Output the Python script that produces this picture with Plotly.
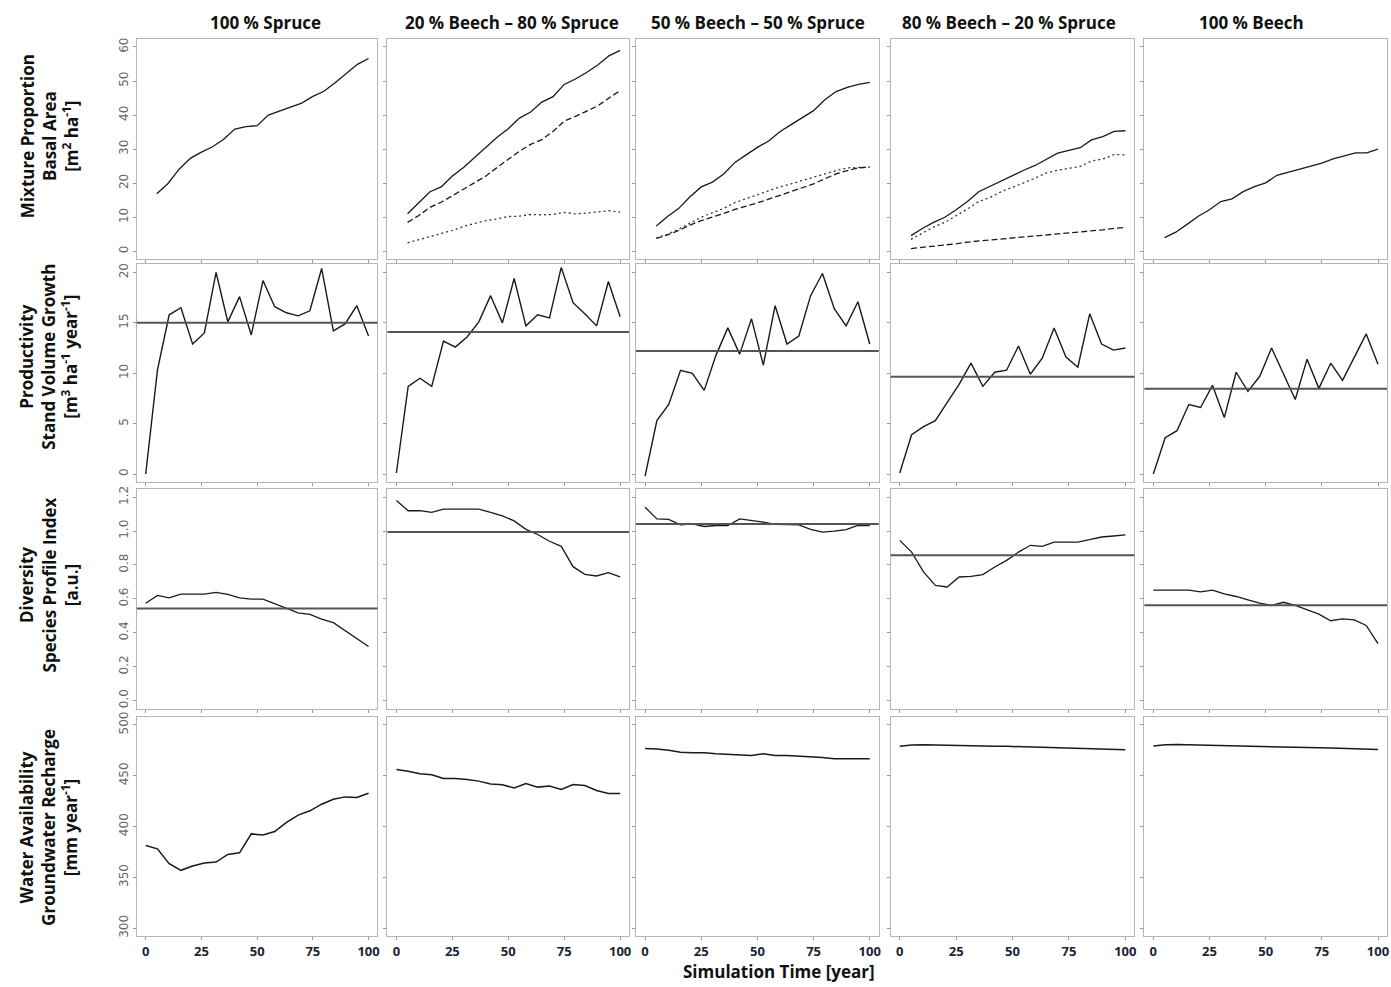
import plotly.graph_objects as go

W, H = 1391, 987

# ---------------- data ----------------
col_titles = ["100 % Spruce", "20 % Beech \u2013 80 % Spruce", "50 % Beech \u2013 50 % Spruce",
              "80 % Beech \u2013 20 % Spruce", "100 % Beech"]
row_titles = ["Mixture Proportion<br>Basal Area<br>[m<sup>2</sup> ha<sup>-1</sup>]",
              "Productivity<br>Stand Volume Growth<br>[m<sup>3</sup> ha<sup>-1</sup> year<sup>-1</sup>]",
              "Diversity<br>Species Profile Index<br>[a.u.]",
              "Water Availability<br>Groundwater Recharge<br>[mm year<sup>-1</sup>]"]

t_ba = [5, 10, 15, 20, 25, 30, 35, 40, 45, 50, 55, 60, 65, 70, 75, 80, 85, 90, 95, 100]
t_sim = [0, 5.26, 10.53, 15.79, 21.05, 26.32, 31.58, 36.84, 42.11, 47.37,
         52.63, 57.89, 63.16, 68.42, 73.68, 78.95, 84.21, 89.47, 94.74, 100]

# Basal area (row 1): total (solid), spruce (dashed), beech (dotted)
ba_total = [
    [16.9, 19.9, 24.1, 27.3, 29.1, 30.7, 32.9, 35.9, 36.6, 36.9, 40.0, 41.1, 42.3, 43.5, 45.5, 47.0, 49.5, 52.2, 54.9, 56.6],
    [11.0, 14.4, 17.5, 18.9, 22.1, 24.6, 27.5, 30.4, 33.5, 36.0, 39.1, 40.9, 43.8, 45.4, 49.0, 50.6, 52.5, 54.7, 57.4, 59.0],
    [7.4, 10.2, 12.6, 16.0, 18.9, 20.3, 22.7, 26.1, 28.3, 30.5, 32.4, 35.1, 37.2, 39.2, 41.3, 44.5, 46.9, 48.1, 49.0, 49.6],
    [4.6, 6.7, 8.5, 10.0, 12.2, 14.6, 17.5, 19.1, 20.7, 22.3, 23.8, 25.2, 27.1, 28.8, 29.6, 30.4, 32.7, 33.7, 35.2, 35.4],
    [4.0, 5.6, 7.9, 10.3, 12.2, 14.6, 15.4, 17.5, 19.0, 20.1, 22.3, 23.2, 24.0, 24.9, 25.9, 27.1, 28.1, 28.9, 28.9, 30.0],
]
ba_spruce = [
    None,
    [8.5, 10.5, 12.9, 14.4, 16.3, 18.3, 20.2, 22.1, 24.6, 27.0, 29.4, 31.4, 32.8, 35.2, 38.2, 39.6, 41.1, 42.7, 45.0, 47.2],
    [3.8, 4.8, 6.1, 7.7, 9.0, 10.0, 11.1, 12.3, 13.2, 14.2, 15.3, 16.4, 17.4, 18.7, 19.8, 21.3, 22.7, 23.7, 24.5, 24.7],
    [0.8, 1.1, 1.4, 1.7, 2.2, 2.7, 3.0, 3.3, 3.5, 3.8, 4.0, 4.4, 4.7, 5.1, 5.3, 5.6, 5.9, 6.3, 6.7, 7.0],
    None,
]
ba_beech = [
    None,
    [2.5, 3.4, 4.4, 5.1, 6.1, 7.3, 8.1, 9.0, 9.5, 10.2, 10.3, 10.8, 10.7, 10.8, 11.4, 11.0, 11.2, 11.5, 11.9, 11.5],
    [3.9, 5.0, 6.5, 8.2, 10.0, 11.3, 12.6, 14.3, 15.5, 16.7, 17.9, 18.9, 19.8, 20.8, 21.6, 22.7, 23.7, 24.5, 24.7, 24.7],
    [3.5, 5.2, 7.1, 8.5, 10.4, 12.4, 14.6, 15.8, 17.5, 18.7, 20.1, 21.5, 23.0, 23.8, 24.4, 24.9, 26.5, 27.1, 28.4, 28.3],
    None,
]

# Stand volume growth (row 2)
growth = [
    [0.0, 10.3, 15.8, 16.5, 12.9, 14.0, 20.0, 15.1, 17.6, 13.8, 19.2, 16.6, 16.0, 15.7, 16.2, 20.4, 14.2, 14.9, 16.7, 13.7],
    [0.1, 8.7, 9.5, 8.7, 13.2, 12.6, 13.6, 15.1, 17.7, 15.0, 19.4, 14.7, 15.8, 15.5, 20.5, 17.0, 15.9, 14.7, 19.1, 15.6],
    [-0.2, 5.3, 6.9, 10.3, 10.0, 8.3, 11.8, 14.5, 11.9, 15.4, 10.8, 16.7, 12.9, 13.7, 17.7, 19.9, 16.4, 14.7, 17.1, 12.9],
    [0.1, 3.9, 4.7, 5.3, 7.1, 8.9, 11.0, 8.7, 10.1, 10.3, 12.7, 9.9, 11.5, 14.5, 11.6, 10.6, 15.9, 12.9, 12.3, 12.5],
    [0.0, 3.6, 4.3, 6.9, 6.6, 8.8, 5.6, 10.1, 8.2, 9.7, 12.5, 9.9, 7.4, 11.4, 8.5, 11.0, 9.3, 11.6, 13.9, 10.9],
]
growth_mean = [15.0, 14.1, 12.2, 9.65, 8.45]

# Species profile index (row 3)
diversity = [
    [0.574, 0.620, 0.606, 0.628, 0.628, 0.628, 0.638, 0.626, 0.606, 0.598, 0.598, 0.572, 0.543, 0.517, 0.509, 0.481, 0.460, 0.413, 0.364, 0.319],
    [1.18, 1.12, 1.12, 1.11, 1.13, 1.13, 1.13, 1.13, 1.11, 1.09, 1.06, 1.01, 0.98, 0.94, 0.91, 0.79, 0.745, 0.735, 0.755, 0.73],
    [1.141, 1.072, 1.069, 1.037, 1.043, 1.027, 1.033, 1.033, 1.072, 1.063, 1.053, 1.039, 1.037, 1.037, 1.010, 0.994, 1.000, 1.008, 1.033, 1.033],
    [0.945, 0.876, 0.759, 0.680, 0.670, 0.729, 0.733, 0.743, 0.788, 0.827, 0.876, 0.916, 0.910, 0.935, 0.935, 0.935, 0.949, 0.965, 0.971, 0.978],
    [0.651, 0.651, 0.651, 0.651, 0.641, 0.651, 0.629, 0.614, 0.594, 0.575, 0.561, 0.580, 0.561, 0.535, 0.510, 0.471, 0.482, 0.476, 0.443, 0.336],
]
diversity_mean = [0.543, 0.994, 1.041, 0.857, 0.563]

# Groundwater recharge (row 4)
recharge = [
    [381.3, 378.0, 363.4, 356.9, 361.1, 364.1, 365.0, 372.5, 374.1, 392.7, 391.7, 395.0, 404.1, 411.2, 415.4, 421.9, 426.8, 429.1, 428.5, 432.7],
    [456.0, 454.4, 451.8, 450.8, 447.2, 447.2, 446.2, 444.6, 441.7, 441.0, 437.8, 442.3, 438.7, 439.7, 436.4, 441.3, 440.3, 435.4, 432.5, 432.5],
    [476.6, 476.3, 475.0, 473.1, 472.4, 472.4, 471.4, 470.8, 470.8, 469.8, 471.4, 469.8, 469.8, 469.1, 469.1, 467.8, 466.5, 466.5, 466.5, 466.5],
    [479.0, 480.2, 480.3, 480.2, 480.0, 479.8, 479.5, 479.2, 479.0, 478.8, 478.5, 478.2, 478.0, 477.6, 477.3, 477.0, 476.6, 476.3, 476.0, 475.5],
    [479.2, 480.3, 480.5, 480.3, 480.1, 479.9, 479.6, 479.3, 479.1, 478.9, 478.6, 478.3, 478.0, 477.7, 477.4, 477.1, 476.8, 476.5, 476.2, 475.6],
]

x_ticks = [0, 25, 50, 75, 100]
y_ticks = [[0, 10, 20, 30, 40, 50, 60], [0, 5, 10, 15, 20],
           [0.0, 0.2, 0.4, 0.6, 0.8, 1.0, 1.2], [300, 350, 400, 450, 500]]
y_ticktext = [[str(v) for v in y_ticks[0]], [str(v) for v in y_ticks[1]],
              ["%.1f" % v for v in y_ticks[2]], [str(v) for v in y_ticks[3]]]
y_ranges = [[-2.4, 62.4], [-0.8, 20.8], [-0.048, 1.248], [292, 508]]

# ---------------- layout geometry (pixels) ----------------
col_px = [(137, 378), (388, 630), (637, 880), (892, 1136), (1146, 1389)]
row_px = [(34, 256), (261, 480), (487, 708), (716, 937)]

fig = go.Figure()
LINE = "#1a1a1a"
MEAN = "#555555"
BORDER = "#b5b5b5"

layout = dict(width=W, height=H, margin=dict(l=0, r=0, t=0, b=0),
              paper_bgcolor="white", plot_bgcolor="white", showlegend=False,
              font=dict(family="Open Sans", color="#222"))
shapes = []
annotations = []

for r in range(4):
    for c in range(5):
        k = r * 5 + c + 1
        xa = "x" if k == 1 else "x%d" % k
        ya = "y" if k == 1 else "y%d" % k
        xl = "xaxis" if k == 1 else "xaxis%d" % k
        yl = "yaxis" if k == 1 else "yaxis%d" % k
        x0, x1 = col_px[c]
        y0, y1 = row_px[r]
        layout[xl] = dict(domain=[x0 / W, x1 / W], anchor=ya, range=[-4, 104],
                          tickvals=x_ticks, ticktext=["<b>%d</b>" % v for v in x_ticks],
                          showticklabels=(r == 3), ticks="outside", ticklen=3,
                          tickcolor="#999", showline=True, mirror=True,
                          linecolor=BORDER, linewidth=1, showgrid=False, zeroline=False,
                          tickfont=dict(family="Open Sans", size=13, color="#1a2433"))
        layout[yl] = dict(domain=[1 - y1 / H, 1 - y0 / H], anchor=xa, range=y_ranges[r],
                          tickvals=y_ticks[r], ticktext=y_ticktext[r],
                          showticklabels=(c == 0), ticks="outside", ticklen=3,
                          tickcolor="#999", tickangle=-90, showline=True, mirror=True,
                          linecolor=BORDER, linewidth=1, showgrid=False, zeroline=False,
                          tickfont=dict(family="DejaVu Sans", size=12, color="#666"))
        if r == 0:
            fig.add_trace(go.Scatter(x=t_ba, y=ba_total[c], mode="lines", xaxis=xa, yaxis=ya,
                                     line=dict(color=LINE, width=1.3)))
            if ba_spruce[c] is not None:
                fig.add_trace(go.Scatter(x=t_ba, y=ba_spruce[c], mode="lines", xaxis=xa, yaxis=ya,
                                         line=dict(color=LINE, width=1.3, dash="6px,3px")))
                fig.add_trace(go.Scatter(x=t_ba, y=ba_beech[c], mode="lines", xaxis=xa, yaxis=ya,
                                         line=dict(color="#333", width=1.3, dash="2px,3px")))
        elif r == 1:
            shapes.append(dict(type="line", xref=xa + " domain", yref=ya, x0=0, x1=1,
                               y0=growth_mean[c], y1=growth_mean[c],
                               line=dict(color=MEAN, width=2)))
            fig.add_trace(go.Scatter(x=t_sim, y=growth[c], mode="lines", xaxis=xa, yaxis=ya,
                                     line=dict(color=LINE, width=1.4)))
        elif r == 2:
            shapes.append(dict(type="line", xref=xa + " domain", yref=ya, x0=0, x1=1,
                               y0=diversity_mean[c], y1=diversity_mean[c],
                               line=dict(color=MEAN, width=2)))
            fig.add_trace(go.Scatter(x=t_sim, y=diversity[c], mode="lines", xaxis=xa, yaxis=ya,
                                     line=dict(color=LINE, width=1.3)))
        else:
            fig.add_trace(go.Scatter(x=t_sim, y=recharge[c], mode="lines", xaxis=xa, yaxis=ya,
                                     line=dict(color=LINE, width=1.5)))

# column titles
col_centers = [266, 513, 759, 1010, 1253]
for c in range(5):
    annotations.append(dict(text="<b>%s</b>" % col_titles[c], x=col_centers[c] / W, y=1 - 18 / H,
                            xref="paper", yref="paper", showarrow=False,
                            xanchor="center", yanchor="middle",
                            font=dict(family="Open Sans", size=17, color="#111")))
# row titles
row_centers = [132, 354, 583, 827]
for r in range(4):
    annotations.append(dict(text="<b>%s</b>" % row_titles[r], x=49 / W, y=1 - row_centers[r] / H,
                            xref="paper", yref="paper", showarrow=False, textangle=-90,
                            xanchor="center", yanchor="middle", align="center",
                            font=dict(family="Open Sans", size=17, color="#111")))
annotations.append(dict(text="<b>Simulation Time [year]</b>", x=780 / W, y=1 - 972 / H,
                        xref="paper", yref="paper", showarrow=False,
                        xanchor="center", yanchor="middle",
                        font=dict(family="Open Sans", size=17, color="#111")))

layout["shapes"] = shapes
layout["annotations"] = annotations
fig.update_layout(**layout)
fig.write_html("out.html", config={"displayModeBar": False},
               post_script="document.body.style.margin='0';document.body.style.padding='0';"
                           "document.body.style.overflow='hidden';")
